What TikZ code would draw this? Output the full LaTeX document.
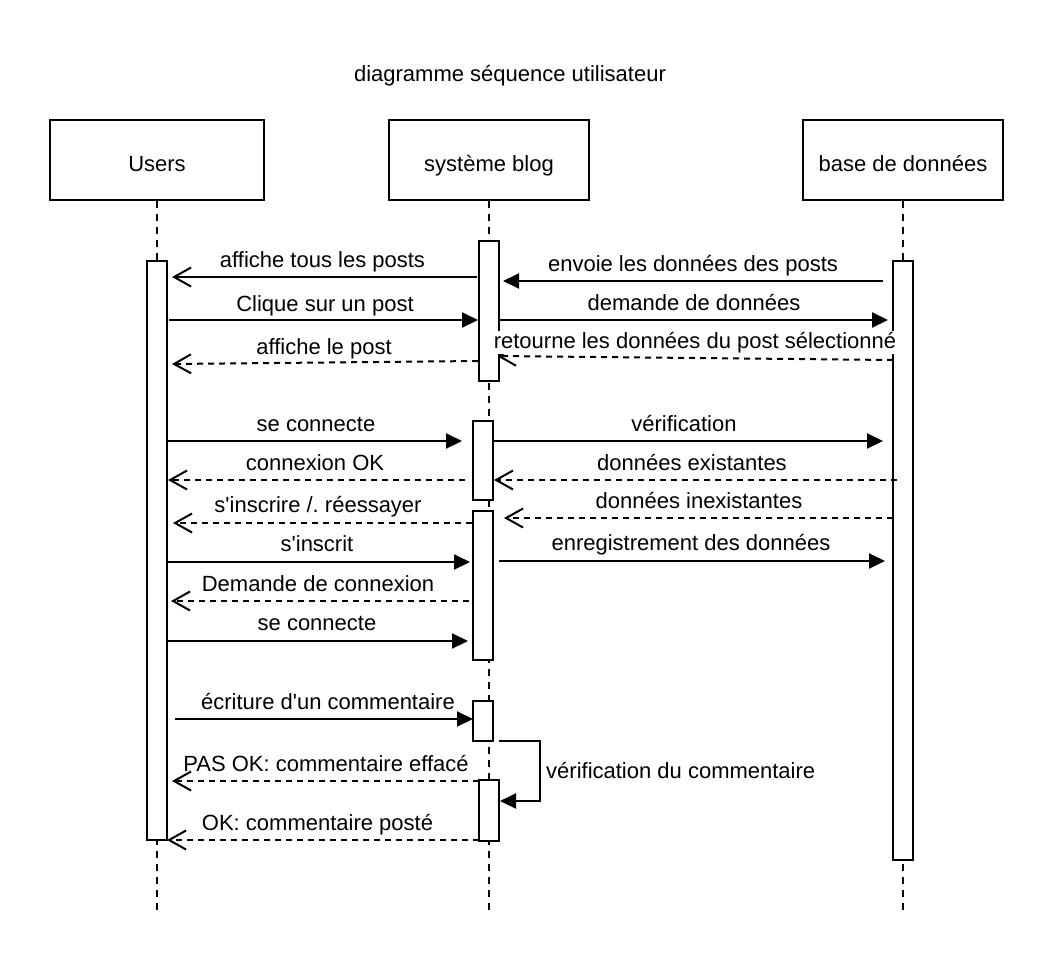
\documentclass[tikz,border=0pt]{standalone}
\usepackage{fontspec}
\setmainfont{Liberation Sans}
\usetikzlibrary{arrows.meta}
\begin{document}
\frenchspacing
\begin{tikzpicture}[x=1pt,y=-1pt,
  every node/.style={font=\fontsize{22}{26}\selectfont, text=black},
  head/.style={draw, line width=2pt, minimum width=200pt, minimum height=80pt, inner sep=0pt, text height=23pt, text depth=0pt},
  act/.style={draw, fill=white, line width=2pt, minimum width=20pt, inner sep=0pt},
  life/.style={line width=2pt, dash pattern=on 7pt off 6pt},
  call/.style={line width=2pt, -{Triangle[length=16pt,width=15pt]}},
  reply/.style={line width=2pt, dash pattern=on 6pt off 5pt, -{Straight Barb[length=17pt,width=19pt]}},
  sync/.style={line width=2pt, -{Straight Barb[length=17pt,width=19pt]}},
  lbl/.style={anchor=base, inner sep=0pt}
]
\fill[white] (0,0) rectangle (1054,972);
\useasboundingbox (0,0) rectangle (1054,972);

% title
\node[lbl] (title) at (510,81) {diagramme séquence utilisateur};

% heads
\node[head, minimum width=214pt] (users) at (157,160) {Users};
\node[head] (blog) at (489,160) {système blog};
\node[head] (db) at (903,160) {base de données};

% lifelines
\coordinate (uend) at (157,915);
\coordinate (bend) at (489,915);
\coordinate (dend) at (903,915);
\draw[life] (users.south) -- (uend);
\draw[life] (blog.south) -- (bend);
\draw[life] (db.south) -- (dend);

% message passing behind activation b1
\coordinate (m6s) at (893,360);
\coordinate (m6e) at (497,356);
\draw[reply] (m6s) -- (m6e);

% activations
\node[act, minimum height=579pt] (ua) at (157,550.5) {};
\node[act, minimum height=599pt] (da) at (903,560.5) {};
\node[act, minimum height=140pt] (b1) at (489,311) {};
\node[act, minimum height=79pt] (b2) at (483,460.5) {};
\node[act, minimum height=149pt] (b3) at (482.5,585.5) {};
\node[act, minimum height=40pt] (b4) at (483,721) {};
\node[act, minimum height=61pt] (b5) at (489,810.5) {};

% message end points
\coordinate (m1s) at (477,277);  \coordinate (m1e) at (172,277);
\coordinate (m2s) at (883,281);  \coordinate (m2e) at (503,281);
\coordinate (m3s) at (169,320);  \coordinate (m3e) at (478,320);
\coordinate (m4s) at (499,320);  \coordinate (m4e) at (888,320);
\coordinate (m5s) at (478,361);  \coordinate (m5e) at (172,364);
\coordinate (m7s) at (167,441);  \coordinate (m7e) at (462,441);
\coordinate (m8s) at (493,441);  \coordinate (m8e) at (883,441);
\coordinate (m9s) at (465,480);  \coordinate (m9e) at (168,480);
\coordinate (m10s) at (897,480); \coordinate (m10e) at (494,480);
\coordinate (m11s) at (472,523); \coordinate (m11e) at (173,523);
\coordinate (m12s) at (893,518); \coordinate (m12e) at (504,518);
\coordinate (m13s) at (167,562); \coordinate (m13e) at (470,562);
\coordinate (m14s) at (499,561); \coordinate (m14e) at (885,561);
\coordinate (m15s) at (469,601); \coordinate (m15e) at (171,601);
\coordinate (m16s) at (167,641); \coordinate (m16e) at (468,641);
\coordinate (m17s) at (175,719); \coordinate (m17e) at (473,719);
\coordinate (s1) at (499,741); \coordinate (s2) at (540,741);
\coordinate (s3) at (540,801); \coordinate (s4) at (500,801);
\coordinate (m19s) at (479,781); \coordinate (m19e) at (172,781);
\coordinate (m20s) at (479,840); \coordinate (m20e) at (167,840);

% messages
\draw[sync] (m1s) -- (m1e);
\draw[call] (m2s) -- (m2e);
\draw[call] (m3s) -- (m3e);
\draw[call] (m4s) -- (m4e);
\draw[reply] (m5s) -- (m5e);
\draw[call] (m7s) -- (m7e);
\draw[call] (m8s) -- (m8e);
\draw[reply] (m9s) -- (m9e);
\draw[reply] (m10s) -- (m10e);
\draw[reply] (m11s) -- (m11e);
\draw[reply] (m12s) -- (m12e);
\draw[call] (m13s) -- (m13e);
\draw[call] (m14s) -- (m14e);
\draw[reply] (m15s) -- (m15e);
\draw[call] (m16s) -- (m16e);
\draw[call] (m17s) -- (m17e);
\draw[call, line join=miter] (s1) -- (s2) -- (s3) -- (s4);
\draw[reply] (m19s) -- (m19e);
\draw[reply] (m20s) -- (m20e);

% labels
\node[lbl] (l1) at (322.5,267) {affiche tous les posts};
\node[lbl] (l2) at (693,271.5) {envoie les données des posts};
\node[lbl] (l3) at (325,311) {Clique sur un post};
\node[lbl] (l4) at (694,310.5) {demande de données};
\node[lbl] (l5) at (324,354) {affiche le post};
\node[lbl, fill=white, inner sep=1pt] (l6) at (695,348) {retourne les données du post sélectionné};
\node[lbl] (l7) at (316,431.5) {se connecte};
\node[lbl] (l8) at (684,431) {vérification};
\node[lbl] (l9) at (315,470.5) {connexion OK};
\node[lbl] (l10) at (692,470) {données existantes};
\node[lbl] (l11) at (318,512) {s\textquotesingle inscrire /. réessayer};
\node[lbl] (l12) at (699,508) {données inexistantes};
\node[lbl] (l13) at (317,551.5) {s\textquotesingle inscrit};
\node[lbl] (l14) at (691,550) {enregistrement des données};
\node[lbl] (l15) at (318,591.5) {Demande de connexion};
\node[lbl] (l16) at (317,630.5) {se connecte};
\node[lbl] (l17) at (328,709) {écriture d\textquotesingle un commentaire};
\node[lbl, anchor=base west] (l18) at (546,778) {vérification du commentaire};
\node[lbl] (l19) at (326,771.5) {PAS OK: commentaire effacé};
\node[lbl] (l20) at (317.5,830) {OK: commentaire posté};
\end{tikzpicture}
\end{document}
